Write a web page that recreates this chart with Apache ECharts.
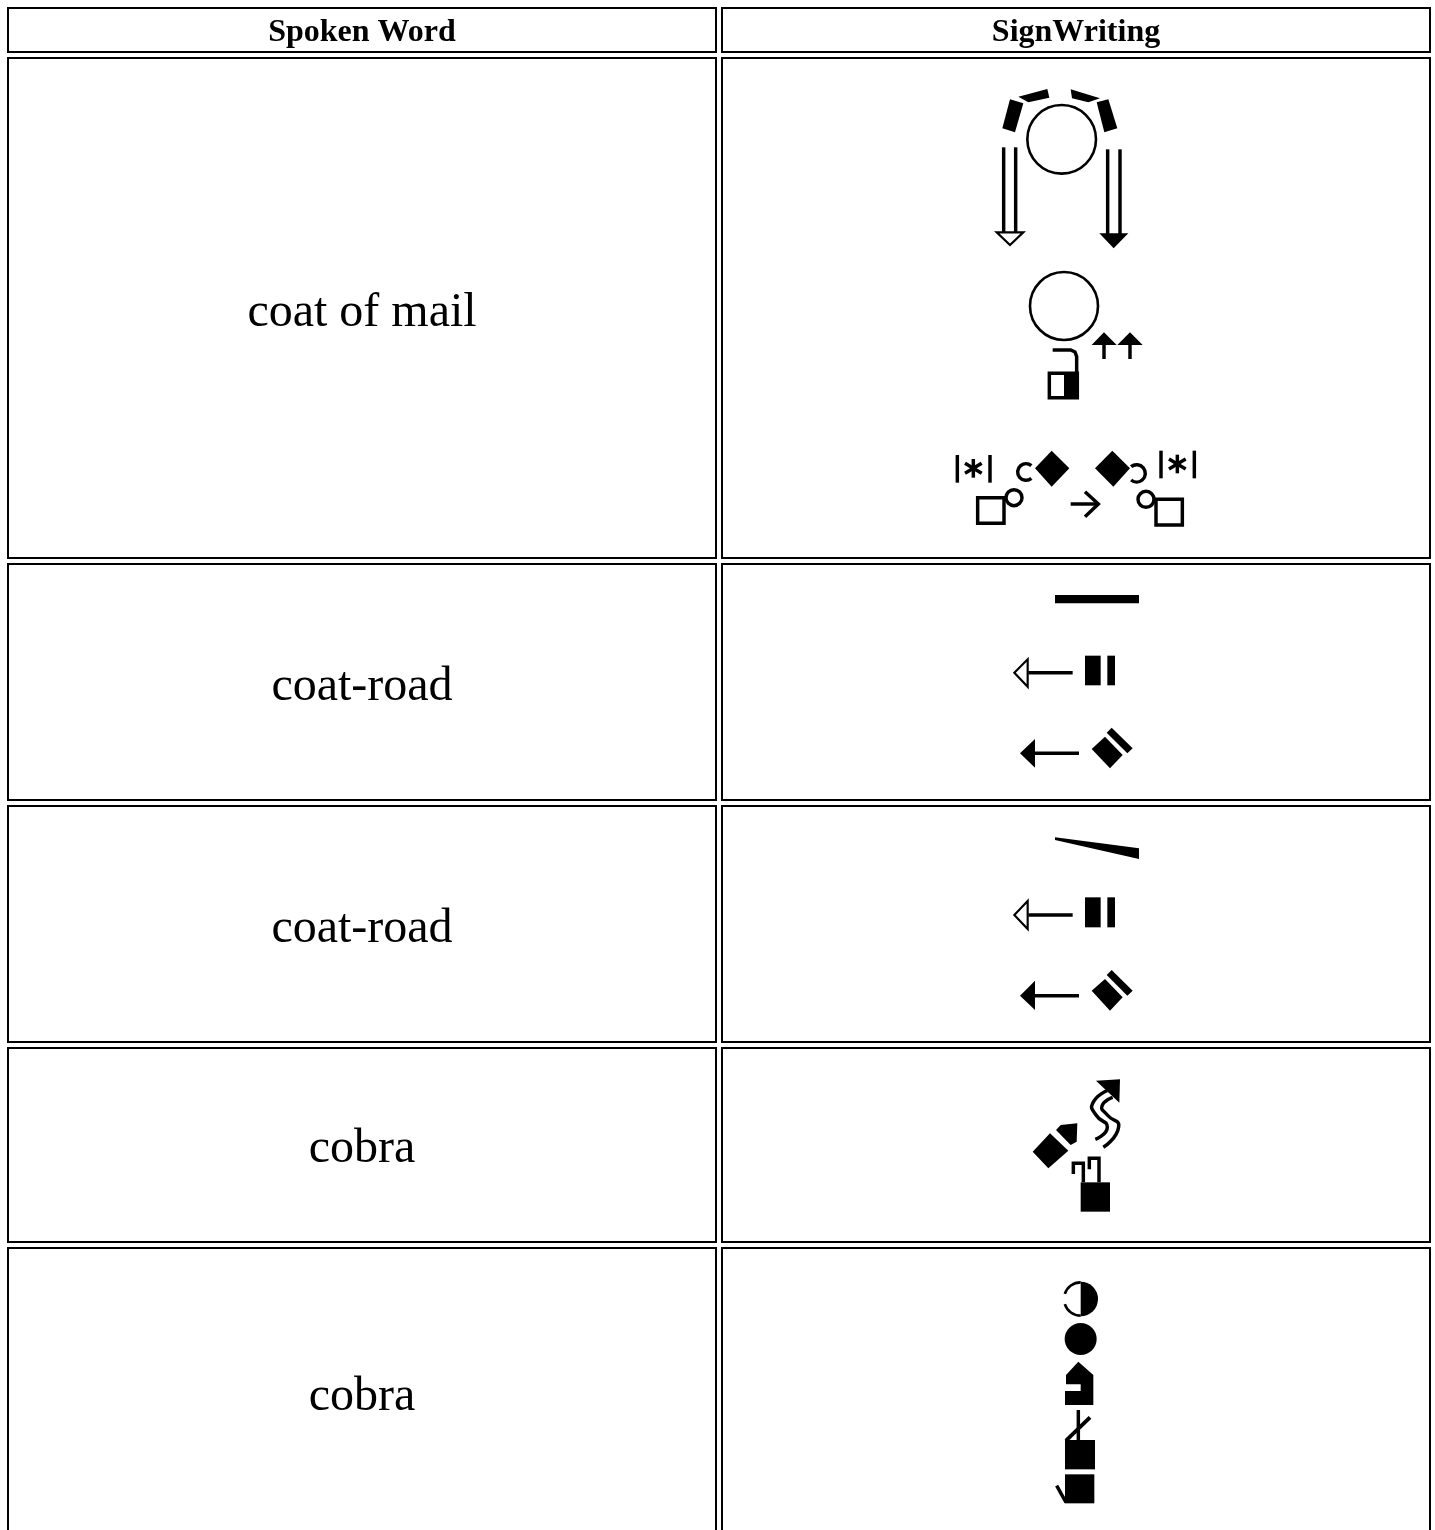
<!DOCTYPE html>
<html><head><meta charset="utf-8">
<style>html,body{margin:0;padding:0;background:#fff;overflow:hidden}#c{width:1435px;height:1530px}</style>
<script src="https://cdn.jsdelivr.net/npm/echarts@6/dist/echarts.min.js"></script>
</head><body><div id="c"></div>
<script>
var headers = ['Spoken Word', 'SignWriting'];
var words = ['coat of mail', 'coat-road', 'coat-road', 'cobra', 'cobra'];
var rowTops = [8, 58, 564, 806, 1048, 1248];
var rowBottoms = [52, 558, 800, 1042, 1242, 1545];
var textNudge = [3, 5, 5, 5, 4, 1];
var colLefts = [8, 722];
var colRights = [716, 1430];
var strokeBoost = 1.3;

function P(pts){return {k:'poly',pts:pts};}
function O(pts,w){return {k:'open',pts:pts,w:w};}
function L(pts,w){return {k:'line',pts:pts,w:w};}
function S(pts,w){return {k:'smooth',pts:pts,w:w};}
function R(x0,y0,x1,y1){return P([[x0,y0],[x1,y0],[x1,y1],[x0,y1]]);}
function RS(x0,y0,x1,y1,w){return O([[x0,y0],[x1,y0],[x1,y1],[x0,y1]],w);}
function C(x,y,r,w){return {k:'circle',x:x,y:y,r:r,w:w};}
function D(x,y,r){return {k:'disc',x:x,y:y,r:r};}
function A(x,y,r,a0,a1,w){return {k:'arc',x:x,y:y,r:r,a0:a0,a1:a1,w:w};}

function star(x,y){return [
  L([[x,y-28],[x,y+28]],8),
  L([[x-25,y-15],[x+25,y+15]],8),
  L([[x-25,y+15],[x+25,y-15]],8)];}

var glyphCoatMailTop = {ox:960,oy:70,items:[
  P([[175,80],[262,57],[268,83],[205,97]]),
  P([[332,58],[420,85],[385,97],[336,85]]),
  P([[150,88],[190,100],[165,187],[127,175]]),
  P([[410,97],[445,88],[472,175],[433,187]]),
  C(305,208,103,6),
  L([[131,232],[131,490]],8),L([[167,232],[167,490]],8),
  O([[110,487],[190,487],[150,525]],5),
  L([[443,238],[443,495]],8),L([[480,238],[480,495]],8),
  P([[418,490],[505,490],[461,535]])
]};
var glyphCoatMailBottom = {ox:940,oy:260,items:[
  C(372,138,102,6),
  P([[455,255],[492,217],[530,255]]),L([[492,250],[492,297]],8),
  P([[532,255],[570,217],[608,255]]),L([[570,250],[570,297]],8),
  L([[338,270],[392,270],[405,276],[410,290],[410,340]],8),
  RS(328,340,412,413,8),R(372,340,412,413),
  L([[52,585],[52,668]],8),L([[150,585],[150,668]],8)
].concat(star(100,625)).concat([
  P([[335,572],[388,625],[335,680],[285,625]]),
  A(258,636,25,50,310,8),
  RS(113,713,192,790,8),C(222,713,24,8),
  L([[392,732],[468,732]],8),L([[435,695],[475,732],[435,770]],8),
  P([[517,572],[570,625],[520,680],[465,625]]),
  A(590,640,26,-130,130,8),
  L([[663,572],[663,655]],8),L([[763,572],[763,655]],8)
]).concat(star(712,612)).concat([
  C(618,718,24,8),RS(648,718,727,795,8)
])};
var glyphRoadFlat = {ox:1000,oy:580,items:[
  R(165,45,417,70),
  L([[85,278],[218,278]],8),O([[83,238],[83,320],[43,278]],5),
  R(255,227,302,316),R(322,227,345,316),
  L([[100,520],[237,520]],8),P([[105,477],[105,563],[60,520]]),
  P([[275,507],[315,470],[368,525],[330,565]]),
  P([[335,443],[398,505],[382,520],[320,458]])
]};
var glyphRoadSlant = {ox:1000,oy:825,items:[
  P([[165,37],[417,70],[417,102],[165,45]]),
  L([[85,270],[218,270]],8),O([[83,228],[83,312],[43,270]],5),
  R(255,217,302,307),R(322,217,345,307),
  L([[100,512],[237,512]],8),P([[105,467],[105,555],[60,512]]),
  P([[275,497],[315,462],[368,517],[330,557]]),
  P([[335,435],[398,497],[382,512],[320,450]])
]};
var glyphCobraA = {ox:1020,oy:1070,items:[
  P([[228,32],[300,28],[298,98]]),
  S([[262,62],[218,100],[228,135],[262,172],[226,208]],8),
  S([[278,82],[246,108],[262,135],[296,170],[250,232]],8),
  P([[38,245],[90,190],[145,242],[85,295]]),
  P([[108,180],[122,165],[172,160],[170,215],[152,225]]),
  R(182,337,270,425),
  L([[160,312],[160,280],[190,280],[190,337]],8),
  L([[208,298],[208,265],[237,265],[237,337]],8)
]};
var glyphCobraB = {ox:1040,oy:1275,items:[
  {k:'half',x:122,y:72,r:52},
  A(122,72,50,90,162,6),A(122,72,50,198,270,6),
  D(122,192,48),
  P([[115,260],[160,300],[160,390],[75,390],[75,348],[122,348],[122,328],[78,328],[78,300]]),
  L([[115,405],[115,497]],8),L([[150,427],[78,497]],9),
  R(75,495,165,583),
  R(75,598,163,685),
  L([[50,632],[78,682]],8)
]};
var glyphs = [glyphCoatMailTop, glyphCoatMailBottom, glyphRoadFlat, glyphRoadSlant, glyphCobraA, glyphCobraB];

function renderCell(params, api){
  var row = api.value(0), col = api.value(1);
  var tl = api.coord([colLefts[col], rowTops[row]]);
  var br = api.coord([colRights[col], rowBottoms[row]]);
  var kids = [{type:'rect',shape:{x:tl[0],y:tl[1],width:br[0]-tl[0],height:br[1]-tl[1]},
    style:{fill:'#fff',stroke:'#000',lineWidth:2}}];
  var txt = row===0 ? headers[col] : (col===0 ? words[row-1] : '');
  if(txt){
    kids.push({type:'text',style:{text:txt,x:(tl[0]+br[0])/2,y:(tl[1]+br[1])/2+textNudge[row],
      textAlign:'center',textVerticalAlign:'middle',fill:'#000',
      font:(row===0?'bold 32px':'48px')+' "Liberation Serif","Times New Roman",serif'}});
  }
  return {type:'group',children:kids};
}
function renderGlyph(params, api){
  var g = glyphs[api.value(0)];
  function pt(p){return api.coord([g.ox+p[0]/3, g.oy+p[1]/3]);}
  var kids = g.items.map(function(it){
    var w = (it.w||0)/3*strokeBoost;
    switch(it.k){
      case 'poly': return {type:'polygon',shape:{points:it.pts.map(pt)},style:{fill:'#000'}};
      case 'open': return {type:'polygon',shape:{points:it.pts.map(pt)},style:{fill:'#fff',stroke:'#000',lineWidth:w}};
      case 'line': return {type:'polyline',shape:{points:it.pts.map(pt)},style:{fill:null,stroke:'#000',lineWidth:w,lineCap:'butt'}};
      case 'smooth': return {type:'polyline',shape:{points:it.pts.map(pt),smooth:0.6},style:{fill:null,stroke:'#000',lineWidth:w}};
      case 'circle': var c=pt([it.x,it.y]); return {type:'circle',shape:{cx:c[0],cy:c[1],r:it.r/3},style:{fill:'#fff',stroke:'#000',lineWidth:w}};
      case 'disc': var d=pt([it.x,it.y]); return {type:'circle',shape:{cx:d[0],cy:d[1],r:it.r/3},style:{fill:'#000'}};
      case 'half': var h=pt([it.x,it.y]); return {type:'sector',shape:{cx:h[0],cy:h[1],r:it.r/3,r0:0,startAngle:-Math.PI/2,endAngle:Math.PI/2,clockwise:true},style:{fill:'#000'}};
      case 'arc': var a=pt([it.x,it.y]); return {type:'arc',shape:{cx:a[0],cy:a[1],r:it.r/3,startAngle:it.a0*Math.PI/180,endAngle:it.a1*Math.PI/180,clockwise:true},style:{fill:null,stroke:'#000',lineWidth:w}};
    }
  });
  return {type:'group',children:kids};
}

var cellData = [];
rowTops.forEach(function(_,r){colLefts.forEach(function(_,c){cellData.push([r,c]);});});

var chart = echarts.init(document.getElementById('c'),null,{renderer:'canvas'});
chart.setOption({
  animation:false,
  backgroundColor:'#fff',
  tooltip:{show:false},
  grid:{left:0,right:0,top:0,bottom:0},
  xAxis:{type:'value',min:0,max:1435,show:false},
  yAxis:{type:'value',min:0,max:1530,inverse:true,show:false},
  series:[
    {type:'custom',name:'cells',renderItem:renderCell,data:cellData,encode:{x:1,y:0},silent:true,clip:true},
    {type:'custom',name:'signs',renderItem:renderGlyph,data:glyphs.map(function(_,i){return [i];}),encode:{x:0},silent:true,z:3}
  ]
});
</script></body></html>
